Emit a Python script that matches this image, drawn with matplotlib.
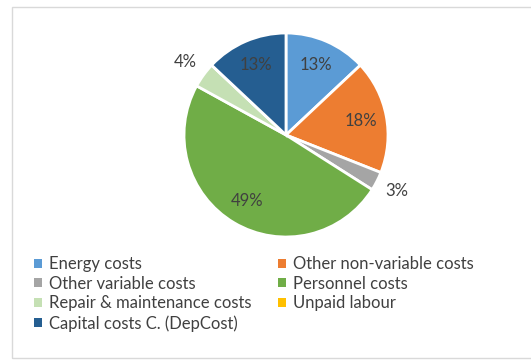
import matplotlib.pyplot as plt
from matplotlib.patches import Rectangle, Patch
import numpy as np

categories = ["Energy costs", "Other non-variable costs", "Other variable costs",
              "Personnel costs", "Repair & maintenance costs", "Unpaid labour",
              "Capital costs C. (DepCost)"]
shares = [13, 18, 3, 49, 4, 0, 13]
colors = ["#5B9BD5", "#ED7D31", "#A5A5A5", "#70AD47", "#C5E0B4", "#FFC000", "#255E91"]

plt.rcParams['font.family'] = ['Lato', 'DejaVu Sans']
txtcol = "#404040"

fig = plt.figure(figsize=(5.31, 3.6), dpi=100)

# light frame of the chart area
fig.patches.append(Rectangle((12/531, 0.005), 0.99, 1 - 7/360 - 0.005,
                             transform=fig.transFigure, fill=False,
                             edgecolor="#D9D9D9", linewidth=1))

cx, cy, r = 286, 135, 102
lim = 1.3
side = 2 * lim * r
ax = fig.add_axes([(cx - side/2)/531, (360 - cy - side/2)/360, side/531, side/360])

wedges, texts, autotexts = ax.pie(
    shares, colors=colors, startangle=90, counterclock=False,
    wedgeprops=dict(edgecolor="white", linewidth=2),
    autopct=lambda p: f"{p:.0f}%" if p > 0 else "", pctdistance=0.75,
    textprops=dict(color=txtcol, fontsize=12))
ax.set_xlim(-lim, lim)
ax.set_ylim(-lim, lim)
ax.set_aspect("equal")

# small slices get their label outside
for w, t, v in zip(wedges, autotexts, shares):
    if 0 < v < 5:
        ang = np.deg2rad((w.theta1 + w.theta2) / 2)
        t.set_position((1.22 * np.cos(ang), 1.22 * np.sin(ang)))

# legend in row order, two columns
order = [0, 2, 4, 6, 1, 3, 5]
handles = [Patch(facecolor=colors[i], label=categories[i]) for i in order]
fig.legend(handles=handles, ncol=2, loc="upper left",
           bbox_to_anchor=(34/531, 1 - 256/360), frameon=False,
           fontsize=12, labelcolor=txtcol, handlelength=0.45, handleheight=0.45,
           handletextpad=0.45, columnspacing=1.6, labelspacing=0.22,
           borderaxespad=0, borderpad=0)

fig.savefig("out.png", dpi=100)
